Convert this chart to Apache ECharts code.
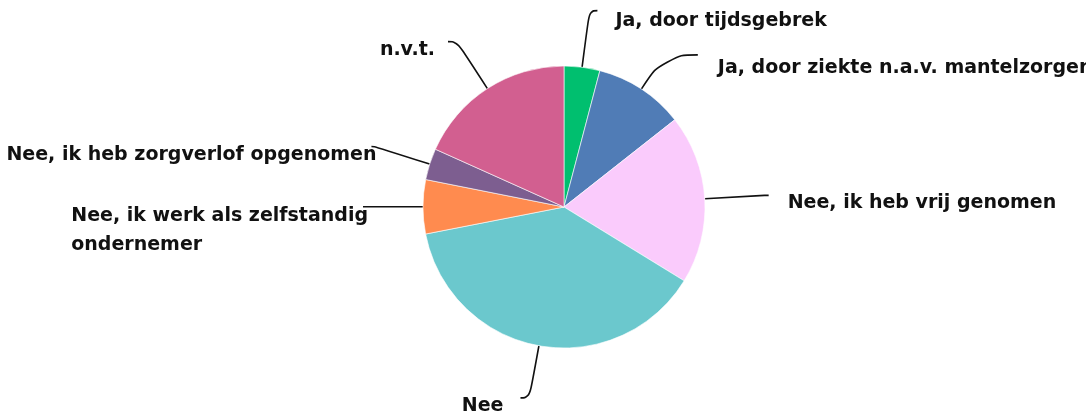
<!DOCTYPE html>
<html>
<head>
<meta charset="utf-8">
<script src="https://cdn.jsdelivr.net/npm/echarts@6/dist/echarts.min.js"></script>
<style>
  html, body { margin: 0; padding: 0; background: #fff; }
  #chart { width: 1086px; height: 417px; }
</style>
</head>
<body>
<div id="chart"></div>
<script>
var categories = [
  'Ja, door tijdsgebrek',
  'Ja, door ziekte n.a.v. mantelzorgen',
  'Nee, ik heb vrij genomen',
  'Nee',
  'Nee, ik werk als zelfstandig\nondernemer',
  'Nee, ik heb zorgverlof opgenomen',
  'n.v.t.'
];
var values = [4.1, 10.3, 19.4, 38.2, 6.2, 3.6, 18.3];
var colors = ['#00BF6F', '#507CB6', '#FACBFC', '#6BC8CD', '#FF8B4F', '#7D5E90', '#D25F90'];

// label line lengths and text offsets per slice: [length, length2, gap, drop]
var guides = [
  [57, 8, 18, 10],
  [41, 34, 20, 13],
  [60, 4, 19, 8],
  [53, 9, 17, 8],
  [30, 30, 0, 0],
  [58, 3, -5, 9],
  [56, 9, 13, 8]
];

var data = categories.map(function (name, i) {
  var g = guides[i];
  return {
    name: name,
    value: values[i],
    itemStyle: { color: colors[i] },
    labelLine: { length: g[0], length2: g[1] },
    label: { distanceToLabelLine: g[2], lineHeight: i === 4 ? 29 : 19 }
  };
});

var chart = echarts.init(document.getElementById('chart'));
chart.setOption({
  animation: false,
  series: [{
    type: 'pie',
    // extend the layout box past the top edge so labels near it are not pushed around
    top: -40,
    bottom: -40,
    center: [564, 247],
    radius: 141,
    startAngle: 90,
    clockwise: true,
    data: data,
    itemStyle: { borderColor: '#fff', borderWidth: 0.6 },
    label: {
      show: true,
      position: 'outside',
      color: '#111',
      fontFamily: 'DejaVu Sans',
      fontWeight: 'bold',
      fontSize: 19,
      overflow: 'none'
    },
    labelLine: {
      show: true,
      smooth: 0.5,
      lineStyle: { color: '#111', width: 1.6 }
    },
    labelLayout: function (p) {
      var pts = p.labelLinePoints;
      if (!pts) return {};
      var end = pts[2];
      if (p.dataIndex === 4) {
        // two-line label: lines left aligned, block hangs below the line end
        return {
          x: end[0] + 5 - p.labelRect.width,
          y: end[1] - 5,
          align: 'left',
          verticalAlign: 'top',
          labelLinePoints: pts
        };
      }
      // text sits a little below the end of its guide line
      return {
        y: end[1] + guides[p.dataIndex][3],
        verticalAlign: 'middle',
        labelLinePoints: pts
      };
    },
    emphasis: { disabled: true }
  }]
});
</script>
</body>
</html>
